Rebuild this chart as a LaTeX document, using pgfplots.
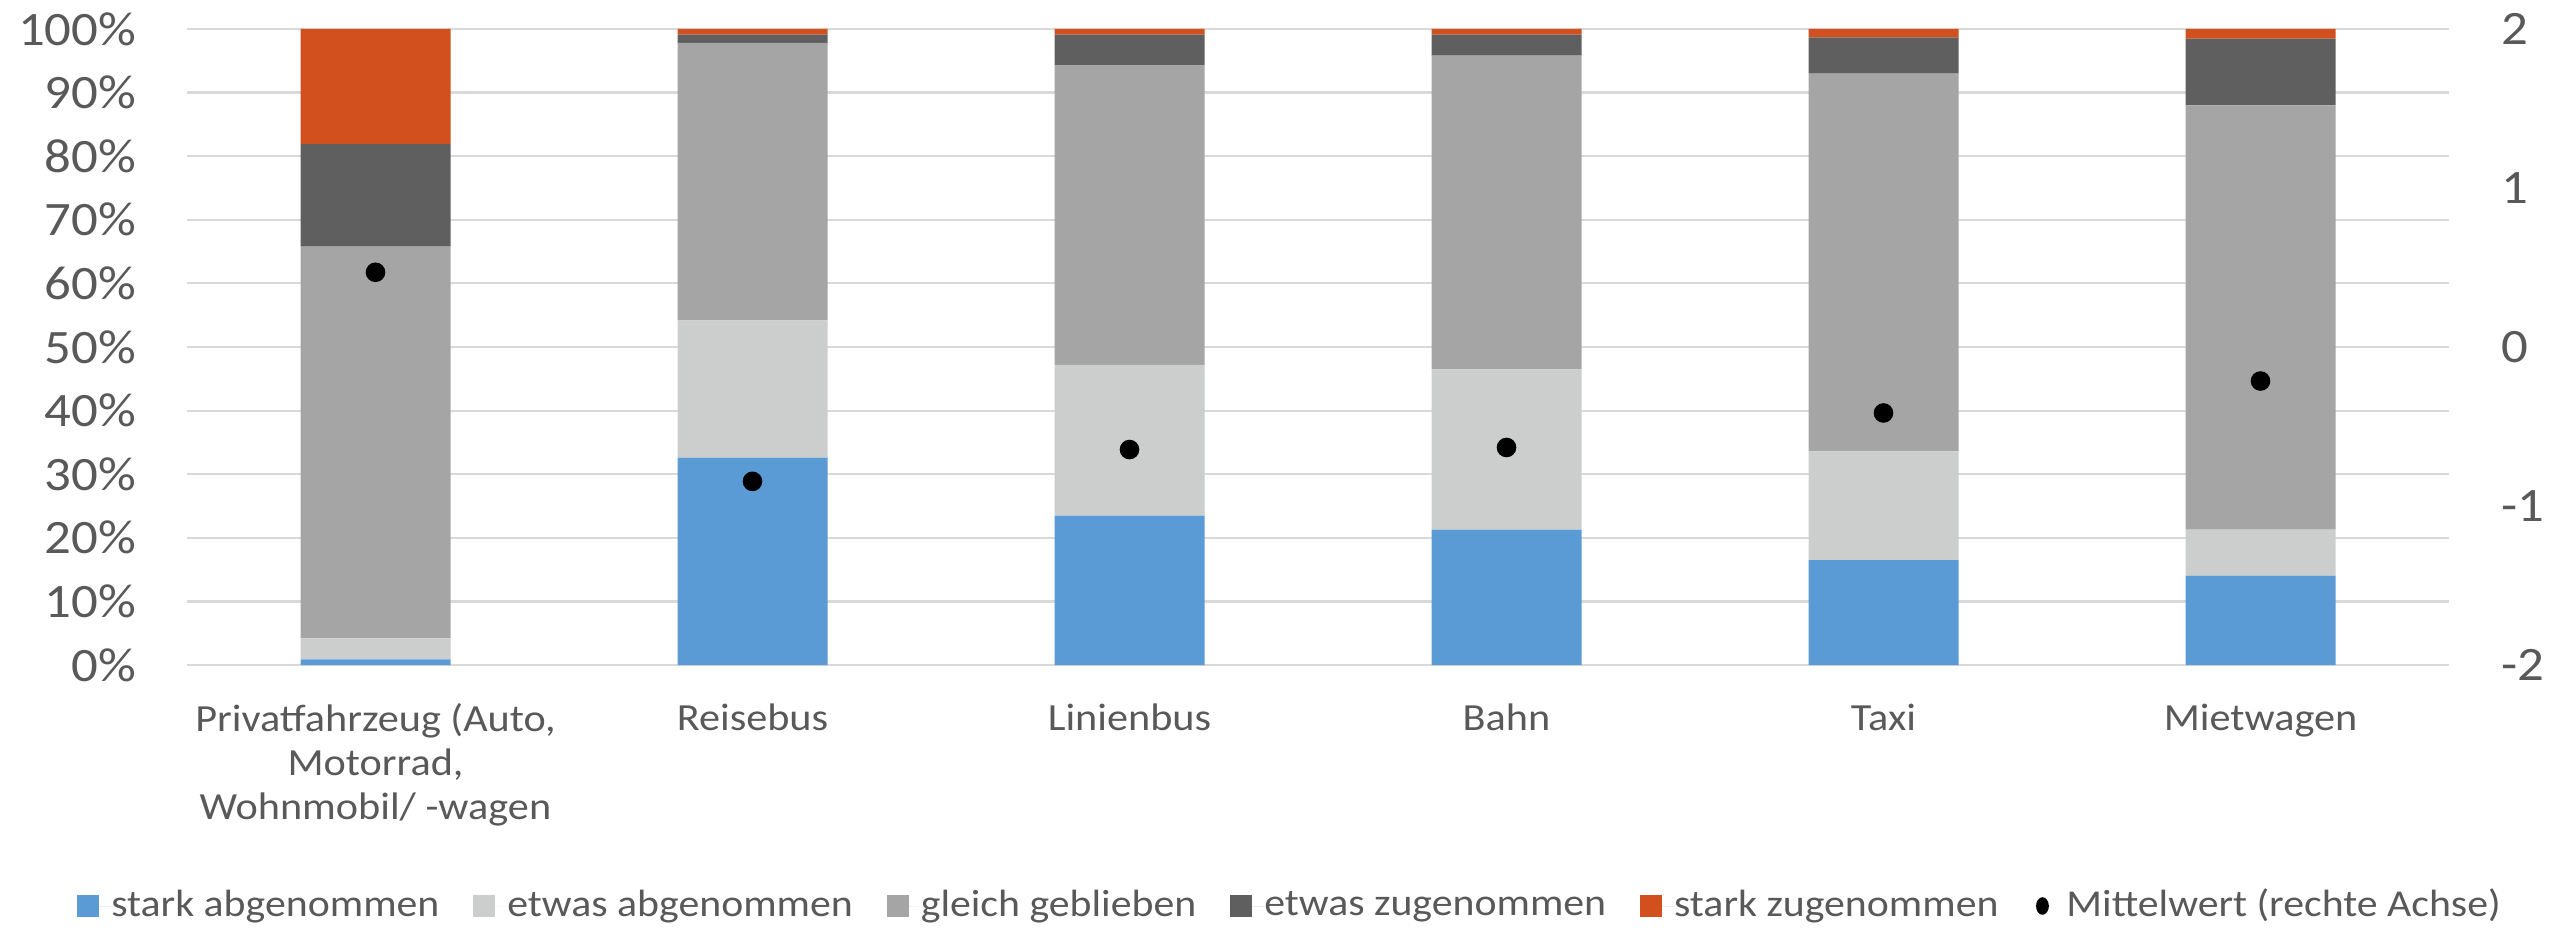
\documentclass[border=0pt]{standalone}
\usepackage{pgfplots}
\pgfplotsset{compat=1.18}
\usepackage{fontspec}
\setmainfont{Carlito}[FakeStretch=1.1]
\definecolor{cblue}{HTML}{5B9BD5}
\definecolor{clgray}{HTML}{CCCDCD}
\definecolor{cgray}{HTML}{A5A5A5}
\definecolor{cdark}{HTML}{5F5F5F}
\definecolor{corange}{HTML}{D24F1E}
\definecolor{textgray}{HTML}{595959}
\definecolor{gridgray}{HTML}{D9D9D9}
\begin{document}
\begin{tikzpicture}
\pgfplotsset{
  barlegend/.style={legend image code/.code={\fill[##1] (0bp,-2.75bp) rectangle (5.5bp,2.75bp); \path[draw=none] (0bp,0bp) -- (8.5bp,0bp);}},
}
\begin{axis}[
  name=main,
  width=565.5bp, height=159bp, scale only axis,
  ybar stacked, bar width=37.5bp,
  xmin=-0.5, xmax=5.5, ymin=0, ymax=100,
  xtick={0,1,2,3,4,5},
  xticklabels={{Privatfahrzeug (Auto,\\Motorrad,\\Wohnmobil/ -wagen},Reisebus,Linienbus,Bahn,Taxi,Mietwagen},
  ytick={0,10,20,30,40,50,60,70,80,90,100},
  yticklabels={0\%,10\%,20\%,30\%,40\%,50\%,60\%,70\%,80\%,90\%,100\%},
  ymajorgrids, grid style={gridgray, line width=0.55bp},
  axis line style={draw=none}, major tick length=0pt,
  yticklabel style={font=\fontsize{12bp}{14bp}\selectfont, text=textgray, inner sep=0pt, anchor=east, xshift=-12.5bp},
  xticklabel style={font=\fontsize{9.6bp}{11bp}\selectfont, text=textgray, align=center, inner sep=0pt, anchor=north, yshift=-9.5bp},
  legend columns=6,
  legend style={at={(axis description cs:0.4872,0)}, anchor=center, yshift=-60.25bp,
    draw=none, fill=none, font=\fontsize{9.5bp}{11bp}\selectfont, text=textgray,
    nodes={inner sep=0pt},
    /tikz/every even column/.append style={column sep=8.5bp}},
  legend cell align=left,
]
\addplot[fill=cblue, draw=none, barlegend] coordinates {(0,0.9) (1,32.6) (2,23.5) (3,21.3) (4,16.5) (5,14.0)};
\addplot[fill=clgray, draw=none, barlegend] coordinates {(0,3.3) (1,21.6) (2,23.7) (3,25.2) (4,17.1) (5,7.3)};
\addplot[fill=cgray, draw=none, barlegend] coordinates {(0,61.6) (1,43.6) (2,47.1) (3,49.3) (4,59.4) (5,66.7)};
\addplot[fill=cdark, draw=none, barlegend] coordinates {(0,16.1) (1,1.3) (2,4.8) (3,3.3) (4,5.7) (5,10.5)};
\addplot[fill=corange, draw=none, barlegend] coordinates {(0,18.1) (1,0.9) (2,0.9) (3,0.9) (4,1.3) (5,1.5)};
\addlegendentry{stark abgenommen}
\addlegendentry{etwas abgenommen}
\addlegendentry{gleich geblieben}
\addlegendentry{etwas zugenommen}
\addlegendentry{stark zugenommen}
\addlegendimage{draw=none, legend image code/.code={\fill[black, draw=none] (2.5bp,0bp) ellipse (1.6bp and 2.2bp); \path[draw=none] (0bp,0bp) -- (8.5bp,0bp);}}
\addlegendentry{Mittelwert (rechte Achse)}
\end{axis}
\begin{axis}[
  width=565.5bp, height=159bp, scale only axis,
  xmin=-0.5, xmax=5.5, ymin=-2, ymax=2,
  axis x line=none, axis y line*=right,
  ytick={-2,-1,0,1,2}, yticklabels={-2,-1,0,1,2},
  axis line style={draw=none}, major tick length=0pt,
  yticklabel style={font=\fontsize{12bp}{14bp}\selectfont, text=textgray, inner sep=0pt, anchor=west, xshift=13bp},
]
\addplot[only marks, mark=*, mark size=2.25bp, black] coordinates {(0,0.47) (1,-0.845) (2,-0.645) (3,-0.632) (4,-0.415) (5,-0.214)};
\end{axis}
\pgfresetboundingbox
\useasboundingbox ([shift={(-46.75bp,-65.75bp)}]main.south west) rectangle ([shift={(25.75bp,7.25bp)}]main.north east);
\end{tikzpicture}
\end{document}
